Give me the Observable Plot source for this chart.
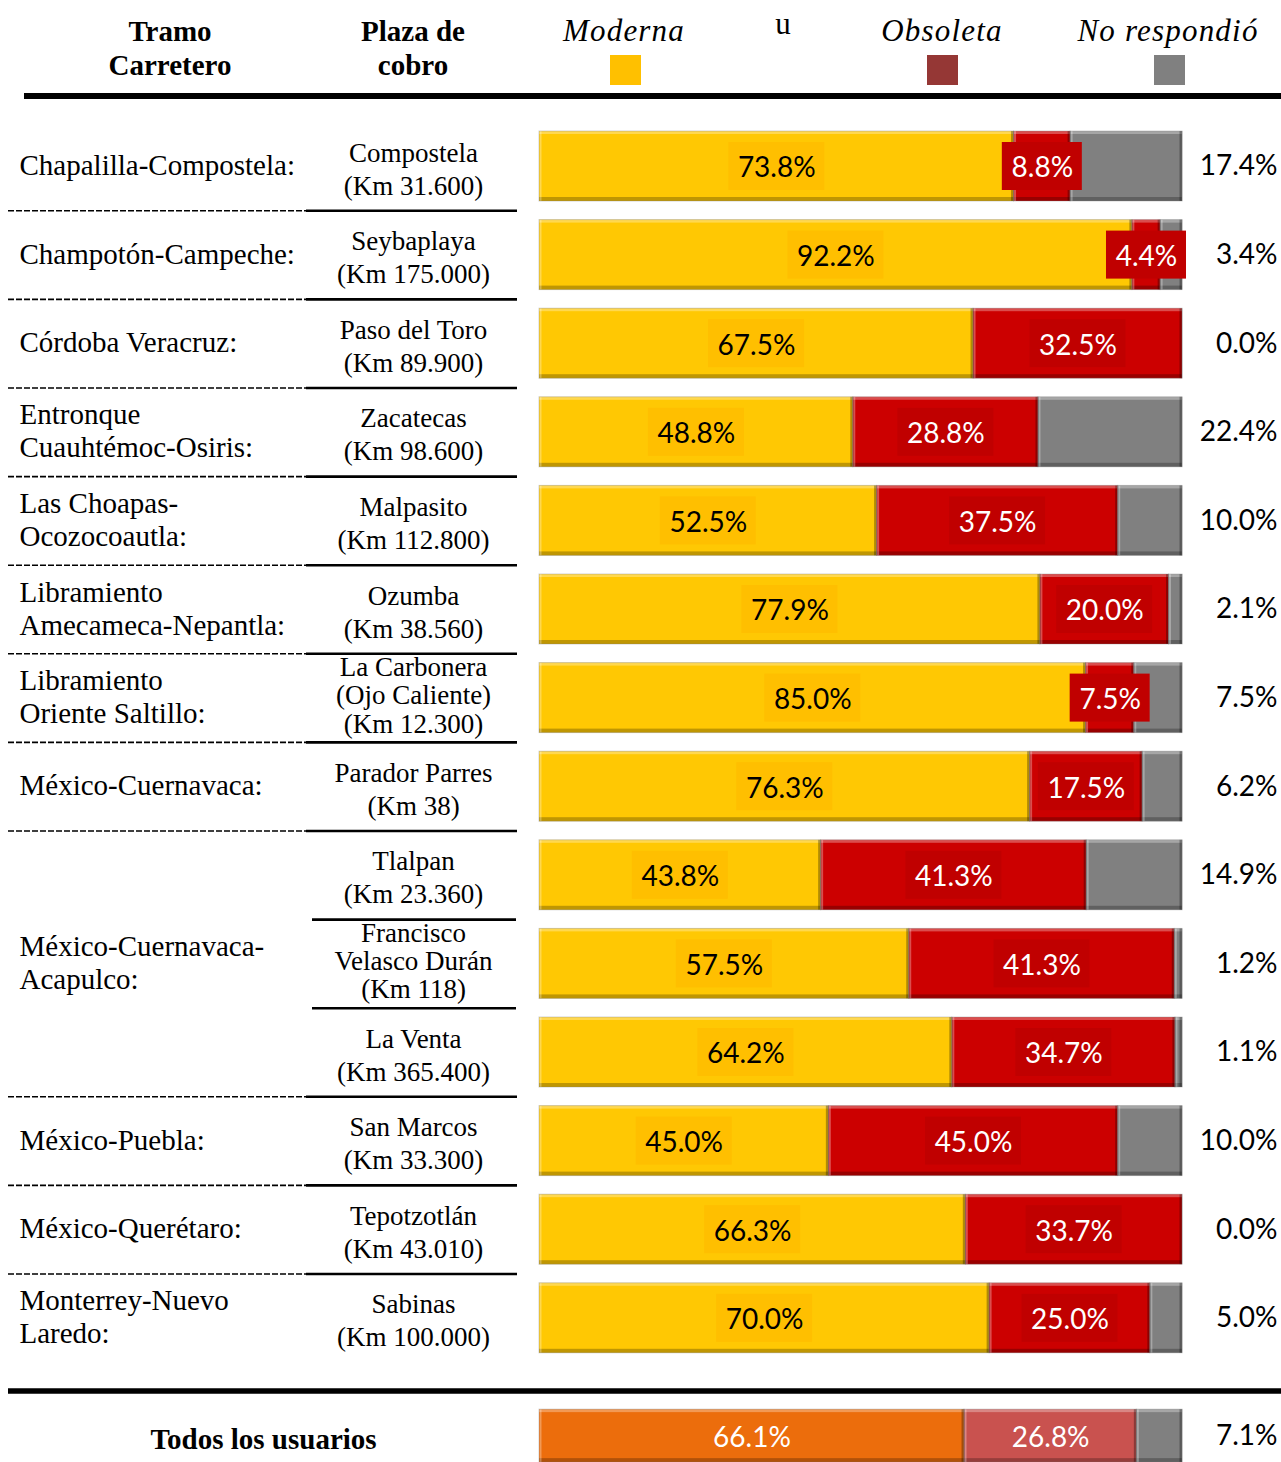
<!DOCTYPE html>
<html><head><meta charset="utf-8">
<script src="https://cdn.jsdelivr.net/npm/d3@7"></script>
<script src="https://cdn.jsdelivr.net/npm/@observablehq/plot@0.6"></script>
<style>
body{margin:0;background:#fff;}
#header{position:relative;width:1281px;height:100px;font-family:"Liberation Serif","Times New Roman",serif;color:#000;}
.h{position:absolute;transform:translate(-50%,-50%);text-align:center;white-space:nowrap;}
.bold{font-weight:bold;font-size:29px;line-height:34px;}
.leg{font-style:italic;font-size:31px;letter-spacing:1.2px;}
.sw{position:absolute;width:31px;height:30px;top:55px;}
#rule{position:absolute;left:24px;right:0;top:93px;height:6px;background:#000;}
#chart svg{display:block;}
</style></head>
<body>
<div id="header"></div>
<div id="chart"></div>
<script>
// ---------- DATA ----------
const tramos = [
  "Chapalilla-Compostela:", "Champotón-Campeche:", "Córdoba Veracruz:",
  "Entronque\nCuauhtémoc-Osiris:", "Las Choapas-\nOcozocoautla:",
  "Libramiento\nAmecameca-Nepantla:", "Libramiento\nOriente Saltillo:",
  "México-Cuernavaca:", "México-Cuernavaca-\nAcapulco:", "México-Cuernavaca-\nAcapulco:",
  "México-Cuernavaca-\nAcapulco:", "México-Puebla:", "México-Querétaro:", "Monterrey-Nuevo\nLaredo:"
];
const plazas = [
  "Compostela\n(Km 31.600)", "Seybaplaya\n(Km 175.000)", "Paso del Toro\n(Km 89.900)",
  "Zacatecas\n(Km 98.600)", "Malpasito\n(Km 112.800)", "Ozumba\n(Km 38.560)",
  "La Carbonera\n(Ojo Caliente)\n(Km 12.300)", "Parador Parres\n(Km 38)",
  "Tlalpan\n(Km 23.360)", "Francisco\nVelasco Durán\n(Km 118)", "La Venta\n(Km 365.400)",
  "San Marcos\n(Km 33.300)", "Tepotzotlán\n(Km 43.010)", "Sabinas\n(Km 100.000)"
];
const moderna  = [73.8, 92.2, 67.5, 48.8, 52.5, 77.9, 85.0, 76.3, 43.8, 57.5, 64.2, 45.0, 66.3, 70.0];
const obsoleta = [8.8, 4.4, 32.5, 28.8, 37.5, 20.0, 7.5, 17.5, 41.3, 41.3, 34.7, 45.0, 33.7, 25.0];
const noResp   = [17.4, 3.4, 0.0, 22.4, 10.0, 2.1, 7.5, 6.2, 14.9, 1.2, 1.1, 10.0, 0.0, 5.0];
const totalLabel = "Todos los usuarios";
const totalValues = [66.1, 26.8, 7.1];
const categories = ["Moderna", "Obsoleta", "No respondió"];
const headerTramo = "Tramo\nCarretero";
const headerPlaza = "Plaza de\ncobro";
const legendSep = "u";

// ---------- STYLE ----------
const barColors = ["#FFC803", "#CC0000", "#808080"];
const totalColors = ["#EC6D0C", "#C9524F", "#808080"];
const boxColors = {"Moderna": "#FFBF00", "Obsoleta": "#C00000"};
const legendColors = ["#FFC000", "#953735", "#808080"];
const ROW_PX = 88.6;
const ROW_HALF = 35 / ROW_PX, TOTAL_HALF = 26.5 / ROW_PX;
const TOTAL_ROW = 14.33;
const serif = "'Liberation Serif','Times New Roman',serif";
const sans = "Lato, 'Open Sans', sans-serif";

// ---------- HEADER (HTML) ----------
const header = document.getElementById("header");
function addDiv(cls, text, left, top, extra) {
  const d = document.createElement("div");
  d.className = cls;
  d.innerHTML = text.replace(/\n/g, "<br>");
  d.style.left = left + "px"; d.style.top = top + "px";
  if (extra) Object.assign(d.style, extra);
  header.appendChild(d);
  return d;
}
addDiv("h bold", headerTramo, 170, 48);
addDiv("h bold", headerPlaza, 413, 48);
const legX = [624, 942, 1168];
const swX = [610, 927, 1154];
categories.forEach((c, i) => {
  addDiv("h leg", c, legX[i], 31);
  const s = document.createElement("div");
  s.className = "sw"; s.style.left = swX[i] + "px"; s.style.background = legendColors[i];
  header.appendChild(s);
});
addDiv("h", legendSep, 783, 24, {fontSize: "31px"});
const rl = document.createElement("div"); rl.id = "rule"; header.appendChild(rl);

// ---------- SEGMENTS ----------
const segs = [];
function addRow(vals, row, half, total) {
  let acc = 0;
  vals.forEach((v, k) => {
    const cat = categories[k];
    segs.push({
      row, total, cat, value: v,
      key: (total ? "T " : "") + cat,
      x1: acc, x2: acc + v, cx: acc + v / 2,
      y1: row - half, y2: row + half,
      label: v.toFixed(1) + "%"
    });
    acc += v;
  });
}
moderna.forEach((m, i) => addRow([m, obsoleta[i], noResp[i]], i, ROW_HALF, false));
addRow(totalValues, TOTAL_ROW, TOTAL_HALF, true);

const colorDomain = categories.concat(categories.map(c => "T " + c));
const colorRange = barColors.concat(totalColors);

const visible = segs.filter(d => d.value > 0);
const inBar = segs.filter(d => d.value > 0 && d.cat !== "No respondió");
const boxed = inBar.filter(d => !d.total);
const outside = segs.filter(d => d.cat === "No respondió");

// tramo groups
const groups = [];
tramos.forEach((t, i) => {
  const g = groups.length && groups[groups.length - 1].name === t ? groups[groups.length - 1] : null;
  if (g) g.rows.push(i); else groups.push({name: t, rows: [i]});
});
groups.forEach(g => g.row = d3.mean(g.rows));
const rowsIdx = d3.range(tramos.length);
const majorBreaks = rowsIdx.slice(0, -1).filter(i => tramos[i] !== tramos[i + 1]).map(i => i + 0.5);
const minorBreaks = rowsIdx.slice(0, -1).filter(i => tramos[i] === tramos[i + 1]).map(i => i + 0.5);
const plazaRows = rowsIdx.map(i => ({row: i, text: plazas[i], n: plazas[i].split("\n").length}));

const W = 1281;
const chart = Plot.plot({
  width: W, height: 1362, margin: 0,
  x: {domain: [0, 100], range: [539, 1182], axis: null},
  y: {domain: [0, 14], range: [66, 66 + 14 * ROW_PX], axis: null},
  color: {domain: colorDomain, range: colorRange},
  style: {background: "white", overflow: "visible"},
  marks: [
    // separators
    Plot.ruleY(majorBreaks, {y: d => d, insetLeft: 8, insetRight: W - 306, stroke: "#000", strokeWidth: 1.6, strokeDasharray: "6,2"}),
    Plot.ruleY(majorBreaks, {y: d => d, insetLeft: 306, insetRight: W - 517, stroke: "#000", strokeWidth: 2.6}),
    Plot.ruleY(minorBreaks, {y: d => d, insetLeft: 312, insetRight: W - 516, stroke: "#000", strokeWidth: 2.6}),
    Plot.ruleY([13.82], {y: d => d, insetLeft: 8, stroke: "#000", strokeWidth: 5.5}),
    // bars
    Plot.rect(visible, {x1: "x1", x2: "x2", y1: "y1", y2: "y2", fill: "key"}),
    Plot.rect(visible, {x1: "x1", x2: "x2", y1: "y1", y2: d => d.y1 + 3 / ROW_PX, fill: "white", fillOpacity: 0.3}),
    Plot.rect(visible, {x1: "x1", x2: "x2", y1: d => d.y2 - 4 / ROW_PX, y2: "y2", fill: "black", fillOpacity: 0.25}),
    Plot.ruleX(visible, {x: "x1", y1: "y1", y2: "y2", stroke: "white", strokeOpacity: 0.3, strokeWidth: 2, dx: 1}),
    Plot.ruleX(visible, {x: "x2", y1: "y1", y2: "y2", stroke: "black", strokeOpacity: 0.3, strokeWidth: 3, dx: -1.5}),
    Plot.rect(visible, {x1: "x1", x2: "x2", y1: "y1", y2: "y2", fill: "none", stroke: "#7f7f7f", strokeOpacity: 0.35, strokeWidth: 1}),
    // label boxes
    Plot.rect(boxed.filter(d => d.label.length === 5), {x1: "cx", x2: "cx", y1: "row", y2: "row", fill: d => boxColors[d.cat], insetLeft: -48, insetRight: -48, insetTop: -24, insetBottom: -24}),
    Plot.rect(boxed.filter(d => d.label.length === 4), {x1: "cx", x2: "cx", y1: "row", y2: "row", fill: d => boxColors[d.cat], insetLeft: -40, insetRight: -40, insetTop: -24, insetBottom: -24}),
    // in-bar labels
    Plot.text(inBar, {x: "cx", y: "row", text: "label", fill: d => (d.cat === "Moderna" && !d.total) ? "#000" : "#fff", fontSize: 28, fontFamily: sans, dy: 2}),
    // outside labels
    Plot.text(outside, {y: "row", text: "label", frameAnchor: "right", textAnchor: "end", dx: -4, fill: "#000", fontSize: 28, fontFamily: sans}),
    // tramo labels
    Plot.text(groups, {y: "row", text: "name", frameAnchor: "left", textAnchor: "start", dx: 19, dy: -2, fontSize: 29, fontFamily: serif, lineHeight: 1.14, fill: "#000"}),
    Plot.text([totalLabel], {y: TOTAL_ROW, text: d => d, frameAnchor: "left", textAnchor: "middle", dx: 263, dy: 4, fontSize: 29, fontWeight: "bold", fontFamily: serif, fill: "#000"}),
    // plaza labels
    Plot.text(plazaRows.filter(d => d.n === 2), {y: "row", text: "text", frameAnchor: "left", textAnchor: "middle", dx: 413, dy: 1, fontSize: 27, fontFamily: serif, lineHeight: 1.22, fill: "#000"}),
    Plot.text(plazaRows.filter(d => d.n === 3), {y: "row", text: "text", frameAnchor: "left", textAnchor: "middle", dx: 413, dy: -3, fontSize: 27, fontFamily: serif, lineHeight: 1.05, fill: "#000"})
  ]
});
document.getElementById("chart").appendChild(chart);
</script>
</body></html>
